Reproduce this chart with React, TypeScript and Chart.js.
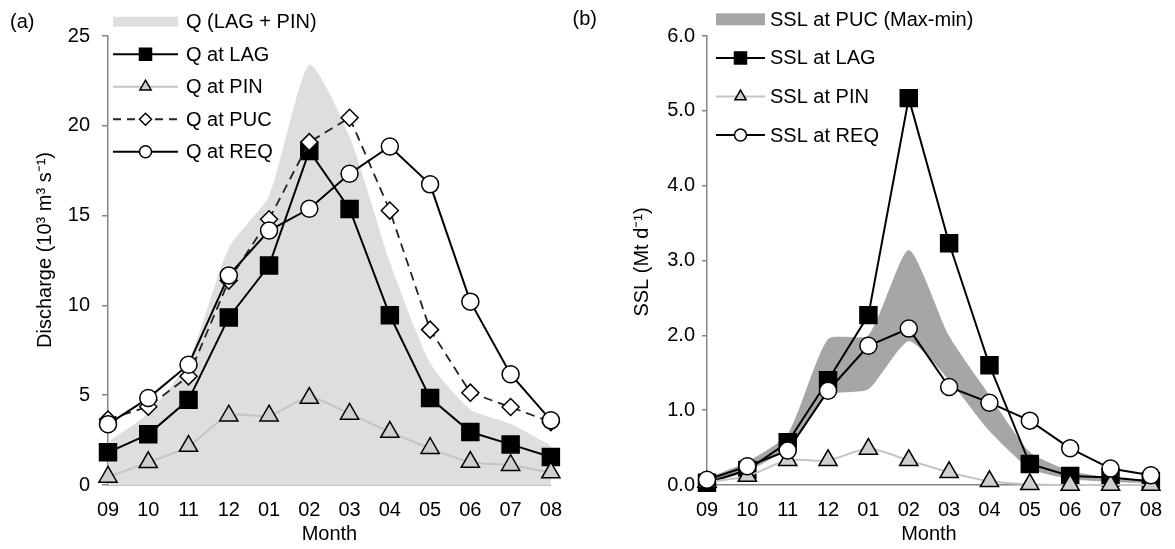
import React, { useEffect, useRef } from 'react';
import { Chart, registerables } from 'chart.js';
Chart.register(...registerables);

// ---------- data ----------
const months = ['09', '10', '11', '12', '01', '02', '03', '04', '05', '06', '07', '08'];

// panel (a) discharge, 10^3 m3 s-1
const qSumLagPin = [2.4, 4.0, 6.9, 13.2, 16.1, 23.4, 19.4, 12.4, 6.8, 4.2, 3.4, 2.2];
const qLag = [1.82, 2.82, 4.74, 9.33, 12.22, 18.6, 15.37, 9.45, 4.84, 2.95, 2.26, 1.56];
const qPin = [0.45, 1.26, 2.17, 3.86, 3.86, 4.84, 3.96, 2.95, 2.05, 1.28, 1.1, 0.69];
const qPuc = [3.65, 4.36, 6.05, 11.38, 14.8, 19.09, 20.45, 15.28, 8.65, 5.14, 4.34, 3.5];
const qReq = [3.38, 4.84, 6.7, 11.67, 14.17, 15.38, 17.33, 18.85, 16.74, 10.21, 6.17, 3.6];

// panel (b) suspended sediment load, Mt d-1
const sslPucMax = [0.09, 0.31, 0.68, 1.95, 2.0, 3.14, 1.99, 1.2, 0.44, 0.19, 0.1, 0.06];
const sslPucMin = [0.02, 0.18, 0.5, 1.2, 1.28, 1.92, 1.4, 0.72, 0.22, 0.08, 0.04, 0.02];
const sslLag = [0.03, 0.2, 0.57, 1.4, 2.27, 5.17, 3.23, 1.6, 0.28, 0.12, 0.1, 0.05];
const sslPin = [0.04, 0.12, 0.33, 0.33, 0.48, 0.33, 0.17, 0.05, 0.01, 0.0, 0.0, 0.0];
const sslReq = [0.07, 0.25, 0.46, 1.26, 1.86, 2.09, 1.31, 1.1, 0.86, 0.49, 0.22, 0.13];

const leftTicks = { min: 0, max: 25, step: 5 };
const rightTicks = { min: 0, max: 6, step: 1 };

// ---------- styling ----------
const FONT = '"Liberation Sans", Arial, Helvetica, sans-serif';
const AXIS = '#868686';
const AREA_LIGHT = '#dedede';
const BAND_DARK = '#a6a6a6';
const PIN_LINE = '#c4c4c4';
const PIN_FILL = '#cfcfcf';

type Mk = 'rect' | 'circle' | 'triangle' | 'rectRot' | null;

interface LegendItem {
  label: string;
  kind: 'band' | 'line';
  color: string;
  dash?: number[];
  marker?: Mk;
  mFill?: string;
}

function drawMarker(ctx: CanvasRenderingContext2D, m: Mk, x: number, y: number, r: number, fill: string) {
  if (!m) return;
  ctx.save();
  ctx.setLineDash([]);
  ctx.beginPath();
  if (m === 'rect') {
    const s = r * Math.SQRT1_2;
    ctx.rect(x - s, y - s, 2 * s, 2 * s);
  } else if (m === 'circle') {
    ctx.arc(x, y, r, 0, Math.PI * 2);
  } else if (m === 'triangle') {
    ctx.moveTo(x, y - r);
    ctx.lineTo(x + r * Math.sin((2 * Math.PI) / 3), y - r * Math.cos((2 * Math.PI) / 3));
    ctx.lineTo(x + r * Math.sin((4 * Math.PI) / 3), y - r * Math.cos((4 * Math.PI) / 3));
    ctx.closePath();
  } else if (m === 'rectRot') {
    ctx.moveTo(x, y - r);
    ctx.lineTo(x + r, y);
    ctx.lineTo(x, y + r);
    ctx.lineTo(x - r, y);
    ctx.closePath();
  }
  ctx.fillStyle = fill;
  ctx.fill();
  ctx.lineWidth = 1.5;
  ctx.strokeStyle = '#000';
  ctx.stroke();
  ctx.restore();
}

interface PanelDeco {
  panelLabel: string;
  panelX: number;
  panelY: number;
  yTitle: string;
  yTitleX: number;
  yTitleY: number;
  legend: LegendItem[];
  legX0: number;
  legX1: number;
  legTextX: number;
  legY0: number;
  legDy: number;
  bandH: number;
}

function decoPlugin(d: PanelDeco) {
  return {
    id: 'deco',
    afterDraw(chart: any) {
      const ctx: CanvasRenderingContext2D = chart.ctx;
      ctx.save();
      ctx.fillStyle = '#000';
      ctx.font = `20px ${FONT}`;
      ctx.textBaseline = 'middle';
      ctx.textAlign = 'left';
      ctx.fillText(d.panelLabel, d.panelX, d.panelY);

      ctx.save();
      ctx.translate(d.yTitleX, d.yTitleY);
      ctx.rotate(-Math.PI / 2);
      ctx.textAlign = 'center';
      ctx.fillText(d.yTitle, 0, 0);
      ctx.restore();

      d.legend.forEach((it, i) => {
        const y = d.legY0 + i * d.legDy;
        if (it.kind === 'band') {
          ctx.fillStyle = it.color;
          ctx.fillRect(d.legX0, y - d.bandH / 2, d.legX1 - d.legX0, d.bandH);
        } else {
          ctx.save();
          ctx.strokeStyle = it.color;
          ctx.lineWidth = 2;
          ctx.setLineDash(it.dash || []);
          ctx.beginPath();
          ctx.moveTo(d.legX0, y);
          ctx.lineTo(d.legX1, y);
          ctx.stroke();
          ctx.restore();
          const cx = (d.legX0 + d.legX1) / 2;
          const r = it.marker === 'rect' ? 8.5 : it.marker === 'triangle' ? 6.5 : 6;
          drawMarker(ctx, it.marker || null, cx, y, r, it.mFill || '#fff');
        }
        ctx.fillStyle = '#000';
        ctx.textAlign = 'left';
        ctx.textBaseline = 'middle';
        ctx.fillText(it.label, d.legTextX, y + 1);
      });
      ctx.restore();
    },
  };
}

function lineDs(label: string, data: number[], opts: any) {
  return {
    label,
    data,
    borderWidth: 2,
    pointBorderWidth: 1.5,
    pointBorderColor: '#000',
    fill: false,
    clip: false,
    tension: 0,
    ...opts,
  };
}

function baseOptions(cfg: { yW: number; padR: number; min: number; max: number; step: number; dec: number; tickLen: number; tickPad: number }) {
  return {
    responsive: false,
    maintainAspectRatio: false,
    animation: false,
    events: [],
    layout: { padding: { left: 0, top: 36, right: cfg.padR, bottom: 0 } },
    plugins: { legend: { display: false }, tooltip: { enabled: false } },
    scales: {
      x: {
        type: 'category',
        offset: false,
        grid: { display: false, drawTicks: false },
        border: { display: true, color: AXIS, width: 1.5 },
        ticks: { color: '#000', font: { family: FONT, size: 20 }, padding: 13, maxRotation: 0, autoSkip: false },
        title: { display: true, text: 'Month', color: '#000', font: { family: FONT, size: 20 }, padding: { top: 0, bottom: 3 } },
        afterFit: (s: any) => {
          s.height = 64;
        },
      },
      y: {
        min: cfg.min,
        max: cfg.max,
        ticks: {
          stepSize: cfg.step,
          color: '#000',
          font: { family: FONT, size: 20 },
          padding: cfg.tickPad,
          callback: (v: any) => Number(v).toFixed(cfg.dec),
        },
        grid: { display: true, drawOnChartArea: false, drawTicks: true, tickLength: cfg.tickLen, color: AXIS, lineWidth: 1.5 },
        border: { display: true, color: AXIS, width: 1.5 },
        afterFit: (s: any) => {
          s.width = cfg.yW;
        },
      },
    },
  };
}

function LeftChart() {
  const ref = useRef<HTMLCanvasElement>(null);
  useEffect(() => {
    const chart = new Chart(ref.current as HTMLCanvasElement, {
      type: 'line',
      data: {
        labels: months,
        datasets: [
          {
            label: 'Q (LAG + PIN)',
            data: qSumLagPin,
            fill: 'origin',
            backgroundColor: AREA_LIGHT,
            borderColor: 'transparent',
            borderWidth: 0,
            pointRadius: 0,
            tension: 0.2,
            order: 5,
            clip: false,
          },
          lineDs('Q at LAG', qLag, {
            borderColor: '#000', pointStyle: 'rect', pointRadius: 12, pointBackgroundColor: '#000', order: 4,
          }),
          lineDs('Q at PIN', qPin, {
            borderColor: PIN_LINE, pointStyle: 'triangle', pointRadius: 10.5, pointBackgroundColor: PIN_FILL, tension: 0.3, order: 3,
          }),
          lineDs('Q at PUC', qPuc, {
            borderColor: '#222', borderDash: [9, 6], borderWidth: 1.8, pointStyle: 'rectRot', pointRadius: 8.5, pointBackgroundColor: '#fff', order: 2,
          }),
          lineDs('Q at REQ', qReq, {
            borderColor: '#000', pointStyle: 'circle', pointRadius: 8.5, pointBackgroundColor: '#fff', order: 1,
          }),
        ],
      },
      options: baseOptions({ yW: 108, padR: 14, min: leftTicks.min, max: leftTicks.max, step: leftTicks.step, dec: 0, tickLen: 6, tickPad: 12 }) as any,
      plugins: [
        decoPlugin({
          panelLabel: '(a)',
          panelX: 10,
          panelY: 22,
          yTitle: 'Discharge (10³ m³ s⁻¹)',
          yTitleX: 45,
          yTitleY: 250,
          legend: [
            { label: 'Q (LAG + PIN)', kind: 'band', color: AREA_LIGHT },
            { label: 'Q at LAG', kind: 'line', color: '#000', marker: 'rect', mFill: '#000' },
            { label: 'Q at PIN', kind: 'line', color: PIN_LINE, marker: 'triangle', mFill: PIN_FILL },
            { label: 'Q at PUC', kind: 'line', color: '#222', dash: [8, 6], marker: 'rectRot', mFill: '#fff' },
            { label: 'Q at REQ', kind: 'line', color: '#000', marker: 'circle', mFill: '#fff' },
          ],
          legX0: 113,
          legX1: 178,
          legTextX: 186,
          legY0: 21.7,
          legDy: 32.5,
          bandH: 10,
        }),
      ],
    });
    return () => chart.destroy();
  }, []);
  return <canvas ref={ref} width={575} height={549} style={{ position: 'absolute', left: 0, top: 0, width: 575, height: 549 }} />;
}

function RightChart() {
  const ref = useRef<HTMLCanvasElement>(null);
  useEffect(() => {
    const chart = new Chart(ref.current as HTMLCanvasElement, {
      type: 'line',
      data: {
        labels: months,
        datasets: [
          {
            label: 'SSL at PUC (Max)',
            data: sslPucMax,
            fill: '+1',
            backgroundColor: BAND_DARK,
            borderColor: 'transparent',
            borderWidth: 0,
            pointRadius: 0,
            tension: 0.2,
            order: 6,
            clip: false,
          },
          {
            label: 'SSL at PUC (min)',
            data: sslPucMin,
            fill: false,
            borderColor: 'transparent',
            borderWidth: 0,
            pointRadius: 0,
            tension: 0.2,
            order: 5,
            clip: false,
          },
          lineDs('SSL at LAG', sslLag, {
            borderColor: '#000', pointStyle: 'rect', pointRadius: 12, pointBackgroundColor: '#000', order: 4,
          }),
          lineDs('SSL at PIN', sslPin, {
            borderColor: PIN_LINE, pointStyle: 'triangle', pointRadius: 10.5, pointBackgroundColor: PIN_FILL, tension: 0.3, order: 3,
          }),
          lineDs('SSL at REQ', sslReq, {
            borderColor: '#000', pointStyle: 'circle', pointRadius: 8.5, pointBackgroundColor: '#fff', order: 1,
          }),
        ],
      },
      options: baseOptions({ yW: 142, padR: 14, min: rightTicks.min, max: rightTicks.max, step: rightTicks.step, dec: 1, tickLen: 5, tickPad: 7 }) as any,
      plugins: [
        decoPlugin({
          panelLabel: '(b)',
          panelX: 7.5,
          panelY: 19,
          yTitle: 'SSL (Mt d⁻¹)',
          yTitleX: 77,
          yTitleY: 262,
          legend: [
            { label: 'SSL at PUC (Max-min)', kind: 'band', color: BAND_DARK },
            { label: 'SSL at LAG', kind: 'line', color: '#000', marker: 'rect', mFill: '#000' },
            { label: 'SSL at PIN', kind: 'line', color: PIN_LINE, marker: 'triangle', mFill: PIN_FILL },
            { label: 'SSL at REQ', kind: 'line', color: '#000', marker: 'circle', mFill: '#fff' },
          ],
          legX0: 151,
          legX1: 200,
          legTextX: 205,
          legY0: 19.3,
          legDy: 38.6,
          bandH: 12,
        }),
      ],
    });
    return () => chart.destroy();
  }, []);
  return <canvas ref={ref} width={610} height={549} style={{ position: 'absolute', left: 565, top: 0, width: 610, height: 549 }} />;
}

export default function App() {
  return (
    <div style={{ position: 'absolute', left: 0, top: 0, width: 1175, height: 549, background: '#fff' }}>
      <LeftChart />
      <RightChart />
    </div>
  );
}
